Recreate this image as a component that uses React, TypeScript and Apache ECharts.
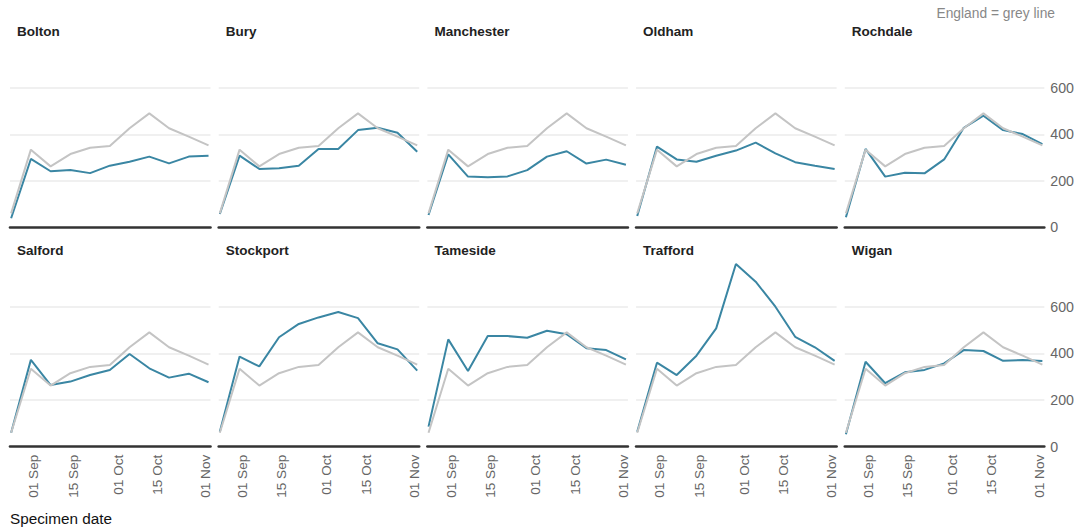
import React, { useEffect, useRef } from "react";
import * as echarts from "echarts";

const DATES = ["2020-08-24", "2020-08-31", "2020-09-07", "2020-09-14", "2020-09-21", "2020-09-28", "2020-10-05", "2020-10-12", "2020-10-19", "2020-10-26", "2020-11-02"];
const ENGLAND = [60, 334, 262, 315, 342, 350, 426, 490, 426, 390, 352];
const AREAS = ["Bolton", "Bury", "Manchester", "Oldham", "Rochdale", "Salford", "Stockport", "Tameside", "Trafford", "Wigan"];
const BOLTON = [39, 294, 241, 246, 233, 265, 282, 304, 275, 304, 308];
const BURY = [57, 308, 251, 254, 265, 337, 337, 418, 428, 407, 325];
const MANCHESTER = [53, 314, 218, 215, 219, 246, 304, 327, 274, 291, 269];
const OLDHAM = [49, 347, 292, 282, 308, 330, 364, 318, 280, 265, 251];
const ROCHDALE = [43, 337, 218, 235, 232, 292, 428, 480, 418, 401, 358];
const SALFORD = [60, 372, 264, 279, 307, 329, 397, 336, 296, 313, 276];
const STOCKPORT = [64, 386, 344, 469, 526, 554, 577, 551, 443, 417, 326];
const TAMESIDE = [86, 460, 324, 474, 474, 467, 497, 482, 422, 414, 374];
const TRAFFORD = [64, 360, 307, 390, 507, 783, 707, 600, 471, 426, 368];
const WIGAN = [53, 364, 272, 319, 329, 357, 414, 410, 368, 371, 367];
const AREA_VALUES = [BOLTON, BURY, MANCHESTER, OLDHAM, ROCHDALE, SALFORD, STOCKPORT, TAMESIDE, TRAFFORD, WIGAN];

const X_TICK_DATES = ["2020-09-01", "2020-09-15", "2020-10-01", "2020-10-15", "2020-11-01"];
const X_TICK_LABELS = ["01 Sep", "15 Sep", "01 Oct", "15 Oct", "01 Nov"];
const Y_TICKS = [0, 200, 400, 600];
const Y_MAX = 800;

const FONT = "'Liberation Sans', Arial, Helvetica, sans-serif";
const BLUE = "#3a86a3";
const GREY = "#c4c4c4";
const DAY = 86400000;

const ts = (d: string) => {
  const [y, m, dd] = d.split("-").map(Number);
  return Date.UTC(y, m - 1, dd);
};
const BASE = ts(DATES[0]);
const dayNum = (d: string) => Math.round((ts(d) - BASE) / DAY);

export default function App() {
  const ref = useRef<HTMLDivElement>(null);
  useEffect(() => {
    document.body.style.margin = "0";
    if (!ref.current) return;
    const chart = echarts.init(ref.current, undefined, { renderer: "svg" });
    const xs = DATES.map(dayNum);
    const tickXs = X_TICK_DATES.map(dayNum);
    const xMin = xs[0] - 0.4;
    const xMax = xs[xs.length - 1] + 0.7;

    const step = 208.7;
    const panelW = 200.5;
    const grids: any[] = [];
    const xAxes: any[] = [];
    const yAxes: any[] = [];
    const series: any[] = [];
    const titles: any[] = [];

    AREAS.forEach((name, i) => {
      const row = Math.floor(i / 5);
      const col = i % 5;
      const left = 10 + col * step;
      const top = row === 0 ? 41.3 : 260;
      const height = row === 0 ? 186 : 186.7;
      grids.push({ left, top, width: panelW, height, containLabel: false });
      xAxes.push({
        type: "value",
        gridIndex: i,
        min: xMin,
        max: xMax,
        axisLine: { show: true, onZero: false, lineStyle: { color: "#333", width: 2.6 } },
        axisTick: { show: false },
        splitLine: { show: false },
        axisLabel: {
          show: row === 1,
          customValues: tickXs,
          rotate: 90,
          margin: 8,
          color: "#666",
          fontSize: 13.6,
          fontFamily: FONT,
          formatter: (v: number) => {
            const k = tickXs.findIndex((t) => Math.abs(t - v) < 0.5);
            return k >= 0 ? X_TICK_LABELS[k] : "";
          },
        },
      });
      yAxes.push({
        type: "value",
        gridIndex: i,
        position: "right",
        min: Y_TICKS[0],
        max: Y_MAX,
        interval: 200,
        axisLine: { show: false },
        axisTick: { show: false },
        splitLine: {
          show: true,
          showMinLine: false,
          showMaxLine: false,
          lineStyle: { color: "#ebebeb", width: 1.5 },
        },
        axisLabel: {
          show: col === 4,
          showMaxLabel: false,
          margin: 6,
          color: "#666",
          fontSize: 14.2,
          fontFamily: FONT,
          formatter: (v: number) => (Y_TICKS.includes(v) ? String(v) : ""),
        },
      });
      series.push({
        type: "line",
        name: name,
        xAxisIndex: i,
        yAxisIndex: i,
        data: xs.map((x, k) => [x, AREA_VALUES[i][k]]),
        showSymbol: false,
        symbol: "none",
        lineStyle: { color: BLUE, width: 2 },
        z: 2,
      });
      series.push({
        type: "line",
        name: "England",
        xAxisIndex: i,
        yAxisIndex: i,
        data: xs.map((x, k) => [x, ENGLAND[k]]),
        showSymbol: false,
        symbol: "none",
        lineStyle: { color: GREY, width: 2 },
        z: 3,
      });
      titles.push({
        text: name,
        left: left + 7,
        top: row === 0 ? 24 : 243,
        textStyle: { fontSize: 13.5, fontWeight: "bold", color: "#222", fontFamily: FONT },
        padding: 0,
      });
    });

    titles.push({
      text: "England = grey line",
      right: 22,
      top: 6,
      padding: 0,
      textStyle: { fontSize: 13.8, fontWeight: "normal", color: "#888", fontFamily: FONT },
    });
    titles.push({
      text: "Specimen date",
      left: 10,
      top: 511,
      padding: 0,
      textStyle: { fontSize: 15.3, fontWeight: "normal", color: "#111", fontFamily: FONT },
    });

    chart.setOption({
      animation: false,
      backgroundColor: "#ffffff",
      title: titles,
      grid: grids,
      xAxis: xAxes,
      yAxis: yAxes,
      series,
    });
    return () => chart.dispose();
  }, []);
  return (
    <div
      ref={ref}
      style={{ position: "absolute", left: 0, top: 0, width: 1077, height: 531 }}
    />
  );
}
